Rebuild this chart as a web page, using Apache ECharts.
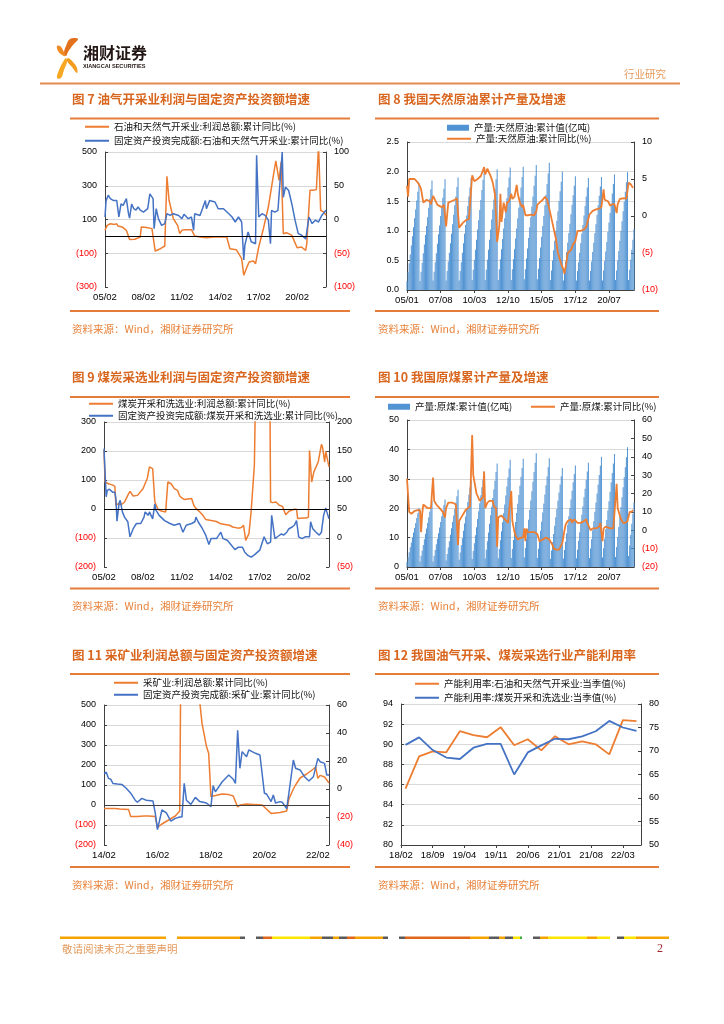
<!DOCTYPE html>
<html><head><meta charset="utf-8">
<script src="https://cdn.jsdelivr.net/npm/echarts@6/dist/echarts.min.js"></script>
<style>html,body{margin:0;padding:0;background:#fff}#main{width:724px;height:1024px}</style>
</head><body><div id="main"></div><script>
// ---------------- DATA ----------------
// x values of line series = months since the chart's first month
// Fig 7 (start 2005/02)
const c7Profit = [[0,36],[2,65],[5,75],[9,71],[11,75],[12,62],[16,56],[20,36],[23,-19],[28,-17],[33,-4],[34,56],[39,52],[44,46],[47,-87],[52,-73],[56,-57],[58,356],[60,214],[64,105],[68,65],[70,16],[72,36],[75,40],[81,40],[84,2],[89,-4],[95,-8],[102,-4],[108,-4],[114,-4],[117,-73],[123,-79],[128,-132],[130,-231],[133,-181],[135,-152],[139,-146],[141,-162],[144,-63],[148,36],[153,174],[158,372],[160,447],[163,332],[165,441],[167,16],[170,22],[175,6],[180,-67],[184,-63],[188,-83],[189,-43],[192,273],[195,273],[198,277],[200,540],[202,154],[205,144],[207,125]];
const c7Fai = [[0,3.7],[1,28],[3,36],[5,31],[8,28],[11,28],[13,3.7],[15,23],[17,21],[20,31],[22,8.6],[23,2.2],[25,23],[27,16],[29,14],[31,18.5],[33,14],[36,11],[40,16],[42,38],[45,31],[46,-13.6],[48,16],[50,1.2],[53,-8.6],[56,-6],[58,8.6],[61,6],[64,8.6],[69,6],[72,1.2],[74,7.7],[78,1.2],[81,3.7],[83,-16],[84,8.6],[89,6],[94,28],[95,16],[98,28],[103,26],[106,16],[111,16],[116,8.6],[119,3.7],[122,-3.7],[125,3.7],[128,-3.7],[130,-60],[131,-38],[134,-18.5],[137,-33],[141,-36],[142,95],[144,3.7],[147,8.6],[150,6],[153,-1],[155,-36],[156,13.6],[159,11],[162,13.6],[166,100],[167,33],[169,48],[172,43],[175,23],[178,-1],[181,-21],[184,-23],[188,-29],[191,3.7],[194,-6],[197,-1],[200,-3.7],[203,6],[207,13.6]];

// Fig 8 (start 2005/01) crude oil cumulative output (亿吨), monthly
const crudeCum = [
0.15,0.30,0.45,0.60,0.75,0.91,1.06,1.21,1.36,1.51,1.66,1.81,
0.15,0.31,0.46,0.62,0.77,0.93,1.08,1.23,1.39,1.54,1.70,1.85,
0.16,0.31,0.47,0.62,0.78,0.94,1.09,1.25,1.40,1.56,1.71,1.87,
0.16,0.32,0.48,0.63,0.79,0.95,1.11,1.27,1.43,1.58,1.74,1.90,
0.16,0.32,0.47,0.63,0.79,0.95,1.10,1.26,1.42,1.58,1.73,1.89,
0.17,0.34,0.51,0.68,0.85,1.02,1.18,1.35,1.52,1.69,1.86,2.03,
0.17,0.34,0.51,0.68,0.85,1.02,1.19,1.36,1.53,1.70,1.87,2.04,
0.17,0.35,0.52,0.69,0.86,1.04,1.21,1.38,1.55,1.73,1.90,2.07,
0.17,0.35,0.52,0.69,0.87,1.04,1.21,1.39,1.56,1.73,1.91,2.08,
0.18,0.35,0.53,0.70,0.88,1.06,1.23,1.41,1.58,1.76,1.93,2.11,
0.18,0.36,0.54,0.72,0.90,1.08,1.25,1.43,1.61,1.79,1.97,2.15,
0.17,0.33,0.50,0.67,0.83,1.00,1.17,1.33,1.50,1.67,1.83,2.00,
0.16,0.32,0.48,0.64,0.80,0.96,1.12,1.28,1.44,1.60,1.76,1.92,
0.16,0.32,0.47,0.63,0.79,0.95,1.10,1.26,1.42,1.58,1.73,1.89,
0.16,0.32,0.48,0.64,0.80,0.96,1.11,1.27,1.43,1.59,1.75,1.91,
0.16,0.33,0.49,0.65,0.81,0.98,1.14,1.30,1.46,1.63,1.79,1.95,
0.17,0.33,0.50,0.66,0.83,1.00,1.16,1.33,1.49,1.66,1.82,1.99,
0.17,0.34,0.51,0.68,0.85,1.03];
const c8Growth = [[0,4.1],[1,2.6],[2,5.0],[7,5.0],[10,4.5],[12,4.0],[13,3.6],[15,1.8],[18,2.2],[21,2.0],[22,1.6],[24,2.7],[26,2.1],[28,1.5],[32,1.2],[34,1.5],[35,1.3],[36,-1.4],[38,1.8],[41,2.0],[44,2.2],[46,2.4],[48,-1.6],[51,-1.0],[54,-0.6],[57,-0.4],[58,-0.2],[60,5.5],[62,4.7],[65,5.0],[68,5.4],[71,6.6],[72,5.6],[74,6.4],[77,5.4],[79,4.5],[81,2.9],[82,0],[83,-3.5],[85,-1.3],[86,3.0],[87,-0.8],[89,1.8],[91,0.5],[92,1.8],[94,2.0],[96,3.0],[97,2.3],[99,2.6],[101,4.2],[102,3.0],[104,1.8],[106,1.2],[107,1.5],[109,0.1],[111,0.1],[114,0.2],[117,0.1],[119,0.6],[120,1.5],[122,1.8],[125,2.2],[127,2.6],[129,2.2],[131,1.0],[134,-1.0],[137,-3.0],[139,-5.0],[142,-6.5],[144,-7.2],[145,-7.8],[147,-6.0],[148,-5.0],[151,-4.6],[153,-3.8],[155,-3.4],[157,-2.0],[160,-2.0],[163,-1.8],[165,-1.5],[168,0.2],[171,0.7],[174,0.9],[177,1.0],[179,1.2],[181,3.6],[182,2.2],[185,2.0],[187,1.4],[189,1.6],[191,1.6],[193,0.4],[194,1.6],[196,2.3],[200,2.4],[202,2.3],[204,4.5],[206,4.3],[208,3.8]];

// Fig 9 (start 2005/02)
const c9Profit = [[0,202],[1,93],[4,87],[7,84],[10,79],[11,13],[13,18],[16,15],[19,24],[22,47],[24,61],[27,45],[31,47],[36,70],[40,105],[42,145],[45,139],[47,24],[50,-1],[53,-7],[57,-10],[59,93],[62,87],[65,70],[68,64],[70,45],[72,38],[74,33],[81,36],[83,13],[85,2],[88,-8],[91,-20],[94,-36],[98,-39],[104,-43],[108,-51],[113,-54],[116,-56],[119,-62],[124,-66],[127,-64],[129,-56],[131,-108],[134,-85],[136,-10],[139,151],[141,600],[153,600],[154,24],[156,22],[159,24],[162,13],[165,9],[168,-20],[171,-8],[176,-1],[178,-1],[179,-33],[184,-31],[187,-31],[189,-28],[190,202],[192,93],[194,128],[198,162],[201,223],[202,214],[204,162],[205,199],[208,145]];
const c9Fai = [[0,154],[2,71],[3,82],[5,84],[8,79],[10,79],[11,68],[12,29],[14,61],[15,65],[17,45],[19,36],[22,28],[24,2],[27,16],[30,25],[34,25],[37,36],[38,45],[41,39],[42,45],[45,33],[47,59],[48,48],[51,39],[56,30],[61,25],[65,22],[70,25],[73,10],[76,22],[81,25],[84,28],[85,36],[87,28],[91,16],[94,5],[97,-11],[99,-1],[104,-1],[108,10],[110,-1],[114,-4],[118,-13],[121,-20],[124,-16],[128,-16],[130,-24],[133,-30],[136,-33],[139,-29],[144,-21],[148,2],[151,-10],[154,-7],[155,39],[158,-1],[161,3],[164,7],[166,5],[169,10],[171,16],[174,19],[176,22],[178,30],[180,2],[183,-1],[186,2],[190,2],[191,28],[193,16],[196,10],[199,5],[201,10],[203,39],[205,52],[206,45],[208,33]];

// Fig 10 (start 2005/01) raw coal cumulative output (亿吨), monthly
const coalCum = [
1.7,3.3,5.0,6.7,8.3,10.0,11.7,13.3,15.0,16.7,18.3,20.0,
1.9,3.8,5.6,7.5,9.4,11.3,13.1,15.0,16.9,18.8,20.6,22.5,
1.9,3.8,5.8,7.7,9.6,11.5,13.4,15.3,17.3,19.2,21.1,23.0,
2.2,4.4,6.6,8.8,11.0,13.2,15.3,17.5,19.7,21.9,24.1,26.3,
2.5,4.9,7.4,9.8,12.3,14.8,17.2,19.7,22.1,24.6,27.0,29.5,
2.7,5.4,8.1,10.8,13.5,16.3,19.0,21.7,24.4,27.1,29.8,32.5,
2.9,5.9,8.8,11.7,14.7,17.6,20.5,23.5,26.4,29.3,32.3,35.2,
3.0,6.1,9.1,12.2,15.2,18.3,21.3,24.3,27.4,30.4,33.5,36.5,
3.1,6.1,9.2,12.3,15.3,18.4,21.5,24.5,27.6,30.7,33.7,36.8,
3.2,6.5,9.7,12.9,16.1,19.4,22.6,25.8,29.0,32.3,35.5,38.7,
3.1,6.2,9.3,12.3,15.4,18.5,21.6,24.7,27.8,30.8,33.9,37.0,
2.8,5.6,8.4,11.2,14.0,16.9,19.7,22.5,25.3,28.1,30.9,33.7,
2.9,5.8,8.6,11.5,14.4,17.3,20.1,23.0,25.9,28.8,31.6,34.5,
3.0,5.9,8.9,11.8,14.8,17.8,20.7,23.7,26.6,29.6,32.5,35.5,
3.1,6.3,9.4,12.5,15.6,18.8,21.9,25.0,28.1,31.3,34.4,37.5,
3.2,6.4,9.6,12.8,16.0,19.2,22.4,25.6,28.8,32.0,35.2,38.4,
3.4,6.8,10.2,13.6,17.0,20.4,23.7,27.1,30.5,33.9,37.3,40.7,
3.7,7.3,11.0,14.7,18.1,21.9];
const c10Growth = [[0,28],[2,10],[4,9],[5,10],[7,10.5],[10,11],[12,11],[13,-1],[14,9],[15,14],[16,13],[19,12],[22,12],[24,28.7],[25,16],[27,14],[30,12],[33,10],[35,7],[36,12],[38,15],[39,16],[42,15],[45,14],[47,-8],[48,5],[50,7],[51,8],[54,11],[58,13],[60,51.8],[61,30],[64,20],[67,16],[68,15],[70,18],[71,32],[72,12],[74,15],[76,16],[79,16],[80,13],[82,12],[83,-9],[84,7],[87,8],[90,6],[91,5],[93,4],[96,21.4],[97,5],[99,-1],[100,-3],[102,-5],[105,-4],[107,-4],[108,1],[109,-6],[110,1],[111,-1],[114,-1],[117,-1],[120,-2],[122,-6],[125,-5],[128,-4],[131,-5],[132,-6],[134,-8],[135,-10],[137,-10.5],[140,-10.5],[143,-7],[145,0],[146,3],[148,5],[149,5],[151,6],[152,4],[154,6],[157,4],[160,4],[163,5],[165,6],[166,4],[169,0],[171,1],[174,1],[177,2],[178,4],[180,-6],[181,1],[183,2],[184,1],[187,1],[190,1],[193,25.3],[194,12],[197,6],[199,4],[201,4],[203,5],[205,10],[207,10],[208,11]];

// Fig 11 (start 2014/02)
const c11Profit = [[0,-17],[5,-17],[7,-20],[11,-22],[12,-58],[15,-57],[18,-55],[20,-55],[23,-57],[24,-112],[26,-95],[29,-75],[32,-55],[34,-30],[35,1500],[41,800],[42,620],[44,408],[46,292],[47,258],[48,42],[50,47],[53,55],[56,52],[58,45],[60,-10],[61,0],[64,5],[67,3],[70,1],[71,0],[75,-42],[79,-37],[82,-30],[83,30],[85,80],[86,100],[88,135],[91,155],[94,180],[95,190],[96,133],[97,148],[99,140],[101,110]];
const c11Fai = [[0,11.2],[1,12],[2,7.6],[3,7],[4,4],[6,3.6],[8,3.3],[10,0.5],[12,-3],[14,-8],[15,-9.5],[17,-6.7],[19,-8],[22,-8.6],[23,-17],[24,-29],[26,-15],[28,-17],[30,-23],[32,-21],[34,-20],[35,-20],[36,4],[37,-8],[39,-11],[41,-6],[43,-9],[46,-10],[48,-12.6],[49,2.4],[50,-2],[53,5],[56,10],[58,7],[59,4],[60,42],[61,14.8],[62,26.7],[64,23],[65,27.9],[68,25.5],[70,24.3],[72,-3],[73,-3.6],[75,-9],[76,-4.3],[77,-10],[79,-9],[80,-9.5],[82,-14],[83,-3],[85,20.7],[86,14.8],[88,13.6],[90,8.8],[92,5.7],[94,8.8],[96,21.9],[97,19.5],[99,18.3],[100,10],[101,10]];

// Fig 12 quarterly capacity utilisation (axis starts 2018/02)
const c12Quarters = ['2018-03','2018-06','2018-09','2018-12','2019-03','2019-06','2019-09','2019-12','2020-03','2020-06','2020-09','2020-12','2021-03','2021-06','2021-09','2021-12','2022-03','2022-06'];
const c12Oil  = [85.6,88.8,89.3,89.2,91.3,90.9,90.7,91.7,89.9,90.5,89.4,90.8,90.0,90.3,90.0,89.0,92.4,92.3];
const c12Coal = [71.3,72.9,70.2,68.6,68.3,70.7,71.5,71.5,65.0,69.7,71.2,72.6,72.5,73.1,74.2,76.4,75.0,74.3];

const titles = ['图 7 油气开采业利润与固定资产投资额增速','图 8 我国天然原油累计产量及增速','图 9 煤炭采选业利润与固定资产投资额增速','图 10 我国原煤累计产量及增速','图 11 采矿业利润总额与固定资产投资额增速','图 12 我国油气开采、煤炭采选行业产能利用率'];
const sourceText = '资料来源：Wind，湘财证券研究所';

// ---------------- HELPERS ----------------
const CJK = '"Noto Sans CJK SC", sans-serif';
const NUM = '"Liberation Sans", Arial, sans-serif';
const ORANGE = '#ED7D31', BLUE = '#4472C4', BAR = '#5193D3';
const TITLE_C = '#D9661E', RULE_C = '#E57C3A', SRC_C = '#E8823A';

function fmtDate(sy, sm, step) {
  return function (v) {
    const r = Math.round(v);
    if (Math.abs(v - r) > 1e-6 || r % step !== 0) return '';
    const t = sm - 1 + r;
    const y = sy + Math.floor(t / 12), m = t % 12 + 1;
    return String(y % 100).padStart(2, '0') + '/' + String(m).padStart(2, '0');
  };
}
const negFmt = v => v < 0 ? '(' + Math.abs(v) + ')' : String(v);
const negColor = v => Number(v) < 0 ? '#FF0000' : '#000000';
function monthsFrom(d, sy, sm) { const [y, m] = d.split('-').map(Number); return (y - sy) * 12 + (m - sm); }

const grids = [
  {left:105, top:152, width:221, height:135},
  {left:407, top:142, width:227, height:148},
  {left:104, top:422, width:225, height:145},
  {left:407, top:420, width:227, height:147},
  {left:104, top:705, width:225, height:140},
  {left:401, top:704, width:240, height:141}
];

function xAx(g, max, step, sy, sm, line) {
  return { type:'value', gridIndex:g, min:0, max:max, interval:step,
    axisLine:{show:line, onZero:false, lineStyle:{color:'#404040', width:1}},
    axisTick:{show:line, inside:false, length:3, lineStyle:{color:'#404040'}},
    splitLine:{show:false},
    axisLabel:{formatter:fmtDate(sy, sm, step), showMaxLabel:false, fontSize:9.5, color:'#000', fontFamily:NUM, margin:5}
  };
}
function yAx(g, pos, min, max, step, split, fmt, extra) {
  const o = { type:'value', gridIndex:g, position:pos, min:min, max:max,
    axisLine:{show:true, lineStyle:{color:'#404040', width:1}},
    axisTick:{show:true, inside:true, length:3, lineStyle:{color:'#404040'}},
    splitLine:{show:split, showMinLine:false, lineStyle:{color:'#D9D9D9', width:1}},
    axisLabel:{formatter:fmt || negFmt, color:negColor, fontSize:9, fontFamily:NUM, margin:8}
  };
  if (step != null) o.interval = step;
  return Object.assign(o, extra || {});
}
function lineS(name, g, yi, data, color, w, zero) {
  const s = { name:name, type:'line', xAxisIndex:g, yAxisIndex:yi, data:data, color:color,
    showSymbol:false, symbol:'none', lineStyle:{color:color, width:w}, z:3, clip:true, connectNulls:true };
  if (zero) s.markLine = { silent:true, symbol:'none', label:{show:false}, animation:false,
    lineStyle:{color:zero, width:1, type:'solid'}, data:[{yAxis:0}] };
  return s;
}
function barS(name, g, yi, vals) {
  return { name:name, type:'bar', xAxisIndex:g, yAxisIndex:yi, data:vals.map((v, i) => [i, v]),
    color:BAR, itemStyle:{color:BAR}, barWidth:'90%', z:2 };
}
function leg(name, left, top, isBar) {
  return { data:[{name:name, icon:'rect'}], left:left, top:top, padding:0, selectedMode:false,
    itemWidth:isBar ? 22 : 24, itemHeight:isBar ? 6 : 2,
    textStyle:{fontSize:9.5, color:'#111', fontFamily:CJK} };
}

// names
const N7a = '石油和天然气开采业:利润总额:累计同比(%)', N7b = '固定资产投资完成额:石油和天然气开采业:累计同比(%)';
const N8a = '产量:天然原油:累计值(亿吨)', N8b = '产量:天然原油:累计同比(%)';
const N9a = '煤炭开采和洗选业:利润总额:累计同比(%)', N9b = '固定资产投资完成额:煤炭开采和洗选业:累计同比(%)';
const N10a = '产量:原煤:累计值(亿吨)', N10b = '产量:原煤:累计同比(%)';
const N11a = '采矿业:利润总额:累计同比(%)', N11b = '固定资产投资完成额:采矿业:累计同比(%)';
const N12a = '产能利用率:石油和天然气开采业:当季值(%)', N12b = '产能利用率:煤炭开采和洗选业:当季值(%)';

const xAxes = [
  xAx(0, 207, 36, 2005, 2, false),
  xAx(1, 209, 31, 2005, 1, true),
  xAx(2, 208, 36, 2005, 2, false),
  xAx(3, 209, 31, 2005, 1, true),
  xAx(4, 101, 24, 2014, 2, false),
  xAx(5, 53, 7, 2018, 2, true)
];
const yAxes = [
  yAx(0, 'left', -300, 500, null, true, null, {alignTicks:true}),
  yAx(0, 'right', -100, 100, 50, false),
  yAx(1, 'left', 0, 2.5, 0.5, true, v => v.toFixed(1)),
  yAx(1, 'right', -10, 10, 5, false),
  yAx(2, 'left', -200, 300, 100, true),
  yAx(2, 'right', -50, 200, 50, false),
  yAx(3, 'left', 0, 50, 10, true),
  yAx(3, 'right', -20, 60, 10, false),
  yAx(4, 'left', -200, 500, 100, true),
  yAx(4, 'right', -40, 60, 20, false),
  yAx(5, 'left', 80, 94, 2, true),
  yAx(5, 'right', 50, 80, 5, false)
];

const c12x = c12Quarters.map(d => monthsFrom(d, 2018, 2));
const series = [
  lineS(N7a, 0, 0, c7Profit, ORANGE, 1.5, '#000'),
  lineS(N7b, 0, 1, c7Fai, BLUE, 1.5),
  barS(N8a, 1, 2, crudeCum),
  lineS(N8b, 1, 3, c8Growth, ORANGE, 1.8),
  lineS(N9a, 2, 4, c9Profit, ORANGE, 1.5, '#000'),
  lineS(N9b, 2, 5, c9Fai, BLUE, 1.5),
  barS(N10a, 3, 6, coalCum),
  lineS(N10b, 3, 7, c10Growth, ORANGE, 1.8),
  lineS(N11a, 4, 8, c11Profit, ORANGE, 1.5, '#404040'),
  lineS(N11b, 4, 9, c11Fai, BLUE, 1.5),
  lineS(N12a, 5, 10, c12x.map((x, i) => [x, c12Oil[i]]), ORANGE, 1.8),
  lineS(N12b, 5, 11, c12x.map((x, i) => [x, c12Coal[i]]), BLUE, 1.8)
];

const legends = [
  leg(N7a, 85, 122), leg(N7b, 85, 136),
  leg(N8a, 447, 123, true), leg(N8b, 447, 134),
  leg(N9a, 89, 399), leg(N9b, 89, 411),
  leg(N10a, 388, 402, true), leg(N10b, 531, 402),
  leg(N11a, 114, 678), leg(N11b, 114, 690),
  leg(N12a, 415, 679), leg(N12b, 415, 693)
];

const titlePos = [[72, 93], [378, 93], [72, 371], [378, 371], [72, 649], [378, 649]];
const titleComps = titles.map((t, i) => ({ text:t, left:titlePos[i][0], top:titlePos[i][1], padding:0,
  textStyle:{color:TITLE_C, fontSize:12.5, fontWeight:'bold', fontFamily:CJK} }));

// ---------------- DECORATION ----------------
const gfx = [];
function hline(x1, x2, y, c, w) { gfx.push({type:'line', silent:true, shape:{x1:x1, y1:y, x2:x2, y2:y}, style:{stroke:c, lineWidth:w}}); }
function txt(s, x, y, font, fill, align) { gfx.push({type:'text', silent:true, x:x, y:y, style:{text:s, font:font, fill:fill, textAlign:align || 'left', textVerticalAlign:'middle', verticalAlign:'middle'}}); }
function poly(pts, c) { gfx.push({type:'polygon', silent:true, shape:{points:pts, smooth:0.4}, style:{fill:c}}); }

// logo
poly([[70,39],[78,39],[73,45],[68,52],[66,56],[64,53],[66,46]], '#E2711D');
poly([[57,46],[60,46],[63,50],[65,56],[62,55],[58,51]], '#F08A24');
poly([[57,78],[59,70],[63,62],[66,58],[67,62],[64,70],[61,78]], '#F7A823');
poly([[68,58],[73,62],[77,68],[77,73],[72,67],[67,61]], '#F39C1F');
txt('湘财证券', 83, 53, 'bold 16px "Noto Sans CJK SC"', '#231815');
txt('XIANGCAI SECURITIES', 83, 66, 'bold 5.6px "Liberation Sans Narrow", "Liberation Sans"', '#231815');
txt('行业研究', 624, 74, '10.5px "Noto Sans CJK SC"', '#E39A5D');
hline(40, 680, 83.5, '#E38A4E', 2);

// section rules and sources
[[118.5, 311], [397, 588.5], [674, 867]].forEach(r => {
  hline(70, 350, r[0], RULE_C, 2); hline(375, 659, r[0], RULE_C, 2);
  hline(70, 350, r[1], RULE_C, 2); hline(375, 659, r[1], RULE_C, 2);
});
[329, 606, 885].forEach(y => {
  txt(sourceText, 72, y, '10.5px "Noto Sans CJK SC"', SRC_C);
  txt(sourceText, 378, y, '10.5px "Noto Sans CJK SC"', SRC_C);
});

// footer bar
const O = '#F5A300', D = '#E0661A', Y = '#FFE600', G = '#5A5A5A', GR = '#3BAA3B';
[[60,166,O],[177,240,O],[240,245,G],[256,263,G],[263,272,D],[272,310,Y],[310,322,O],[322,333,G],[333,339,O],[339,347,G],[347,355,D],[355,383,O],[383,388,G],[399,405,G],[405,470,D],[470,489,O],[489,499,G],[499,505,O],[505,513,G],[513,520,Y],[520,522,GR],[533,540,G],[540,548,O],[548,587,Y],[587,597,O],[597,610,Y],[617,624,G],[624,636,Y],[636,669,O]]
  .forEach(s => gfx.push({type:'rect', silent:true, shape:{x:s[0], y:936.5, width:s[1] - s[0], height:2.5}, style:{fill:s[2]}}));
txt('敬请阅读末页之重要声明', 62, 949, '10.5px "Noto Sans CJK SC"', '#E39A5D');
txt('2', 657, 949, '12px "Liberation Serif", "DejaVu Serif"', '#9E2A2F');

// ---------------- CHART ----------------
const chart = echarts.init(document.getElementById('main'), null, {renderer:'canvas'});
chart.setOption({
  animation:false,
  backgroundColor:'#fff',
  textStyle:{fontFamily:CJK},
  title:titleComps,
  legend:legends,
  grid:grids,
  xAxis:xAxes,
  yAxis:yAxes,
  series:series,
  graphic:{elements:gfx}
});
</script></body></html>
